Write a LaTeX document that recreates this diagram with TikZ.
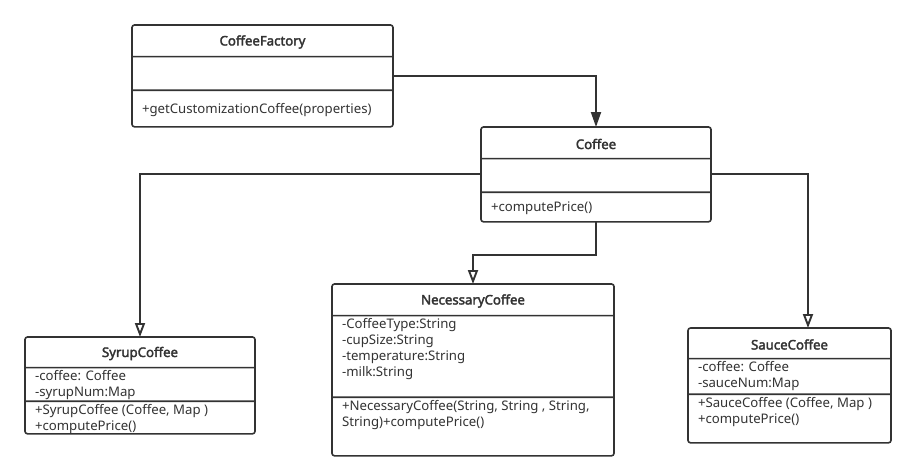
\documentclass[tikz,border=0pt]{standalone}
\usepackage{fontspec}
\setmainfont{Noto Sans}[AutoFakeBold=2.5]
\usetikzlibrary{shapes.multipart,arrows.meta}
\definecolor{umlline}{HTML}{333333}

\newcommand{\umlpart}[4][t]{\parbox[c][#3pt][#1]{#2pt}{\fontsize{13.2}{16}\selectfont\color{umlline}\raggedright\leftskip=10pt\rule{0pt}{12.5pt}#4}}

\tikzset{
  umlclass/.style={rectangle split, rectangle split parts=3, draw=umlline, line width=1.6pt,
    rounded corners=2.5pt, inner sep=0pt, outer sep=0pt, anchor=north west},
  assoc/.style={draw=umlline, line width=1.9pt, -{Triangle[length=15pt,width=10pt]}},
  inherit/.style={draw=umlline, line width=1.9pt, -{Triangle[open,length=14pt,width=10pt,fill=white]}}
}

\begin{document}
\begin{tikzpicture}[x=1pt,y=-1pt]
\path[use as bounding box, fill=white] (0,0) rectangle (917,475);

\node[umlclass] (factory) at (132,25) {\umlpart[c]{261}{30}{\centering\bfseries CoffeeFactory}
  \nodepart{two}\umlpart{261}{32}{}
  \nodepart{three}\umlpart[c]{261}{35}{+getCustomizationCoffee(properties)}};

\node[umlclass] (coffee) at (481,127) {\umlpart[c]{230}{30}{\centering\bfseries Coffee}
  \nodepart{two}\umlpart{230}{32}{}
  \nodepart{three}\umlpart[c]{230}{28}{+computePrice()}};

\node[umlclass] (syrup) at (25,337) {\umlpart[c]{230}{29}{\centering\bfseries SyrupCoffee}
  \nodepart{two}\umlpart{230}{32}{-coffee: Coffee\\-syrupNum:Map}
  \nodepart{three}\umlpart{230}{31}{+SyrupCoffee (Coffee, Map )\\+computePrice()}};

\node[umlclass] (necessary) at (332,284) {\umlpart[c]{282}{30}{\centering\bfseries NecessaryCoffee}
  \nodepart{two}\umlpart{282}{80}{-CoffeeType:String\\-cupSize:String\\-temperature:String\\-milk:String}
  \nodepart{three}\umlpart{282}{57}{+NecessaryCoffee(String, String , String,\\String)+computePrice()}};

\node[umlclass] (sauce) at (688,328) {\umlpart[c]{203}{29}{\centering\bfseries SauceCoffee}
  \nodepart{two}\umlpart{203}{34}{-coffee: Coffee\\-sauceNum:Map}
  \nodepart{three}\umlpart{203}{47}{+SauceCoffee (Coffee, Map )\\+computePrice()}};

\draw[assoc] (factory.east) -| (coffee.north);
\draw[inherit] (coffee.west) -| (syrup.north);
\draw[inherit] (coffee.east) -| ([xshift=18.5pt]sauce.north);
\draw[inherit] (coffee.south) -- ++(0,33) -| (necessary.north);
\end{tikzpicture}
\end{document}
